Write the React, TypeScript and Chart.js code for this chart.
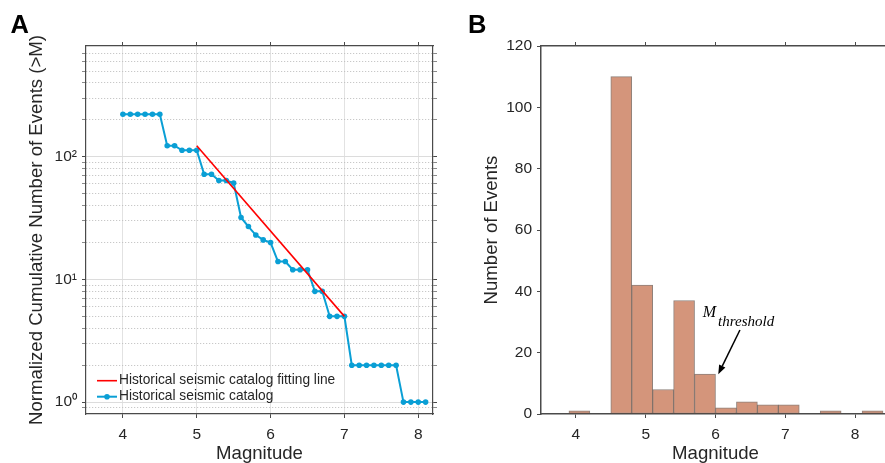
import React, { useEffect, useRef } from "react";
import { Chart, registerables } from "chart.js";

Chart.register(...registerables);

// ---------- Panel A data ----------
const catalogMagnitudes = [
  4.0, 4.1, 4.2, 4.3, 4.4, 4.5, 4.6, 4.7, 4.8, 4.9, 5.0, 5.1, 5.2, 5.3, 5.4, 5.5,
  5.6, 5.7, 5.8, 5.9, 6.0, 6.1, 6.2, 6.3, 6.4, 6.5, 6.6, 6.7, 6.8, 6.9, 7.0, 7.1,
  7.2, 7.3, 7.4, 7.5, 7.6, 7.7, 7.8, 7.9, 8.0, 8.1,
];
const catalogCounts = [
  222, 222, 222, 222, 222, 222, 123, 123, 113, 113, 113, 72, 72, 64, 64, 61,
  32, 27, 23, 21, 20, 14, 14, 12, 12, 12, 8, 8, 5, 5, 5, 2,
  2, 2, 2, 2, 2, 2, 1, 1, 1, 1,
];
const fitMagnitudes = [5.0, 7.0];
const fitCounts = [123, 5];
const seriesLabels = ["Historical seismic catalog fitting line", "Historical seismic catalog"];

const magnitudeTicks = [4, 5, 6, 7, 8];
const logTicks = [
  0.9, 1, 2, 3, 4, 5, 6, 7, 8, 9, 10, 20, 30, 40, 50, 60, 70, 80, 90, 100, 200, 300, 400, 500, 600, 700,
];
const logMajorValues = [1, 10, 100];
const logMajorLabels = ["10\u2070", "10\u00B9", "10\u00B2"];

// ---------- Panel B data ----------
const binCenters = [4.05, 4.35, 4.65, 4.95, 5.25, 5.55, 5.85, 6.15, 6.45, 6.75, 7.05, 7.35, 7.65, 7.95, 8.25];
const binCounts = [1, 0, 110, 42, 8, 37, 13, 2, 4, 3, 3, 0, 1, 0, 1];
const countTicks = [0, 20, 40, 60, 80, 100, 120];
const annotationMain = "M";
const annotationSub = "threshold";
const arrowTail = [6.35, 27.4];
const arrowHead = [6.04, 13.0];
const annotationAnchor = [5.817, 31.7];

// ---------- styling ----------
const FONT = "'Liberation Sans', Arial, Helvetica, sans-serif";
const SERIF = "'Liberation Serif', 'Times New Roman', serif";
const TEXT = "#262626";
const AXIS = "#4a4a4a";
const BLUE = "#0A9FD5";
const RED = "#FF0000";
const BAR = "#D4957B";
const BAR_EDGE = "rgba(95,75,65,0.7)";
const tickFont = { family: FONT, size: 15.5 };
const titleFont = { family: FONT, size: 18.6 };

const panelLabel = (text: string, x: number, y: number) => ({
  id: "panelLabel" + text,
  afterDraw(chart: any) {
    const ctx = chart.ctx;
    ctx.save();
    ctx.font = `bold 25.5px ${FONT}`;
    ctx.fillStyle = "#000";
    ctx.textBaseline = "alphabetic";
    ctx.textAlign = "left";
    ctx.fillText(text, x, y);
    ctx.restore();
  },
});

const insideLegend = {
  id: "insideLegend",
  afterDatasetsDraw(chart: any) {
    const { ctx, chartArea } = chart;
    const x0 = chartArea.left + 11;
    let y = chartArea.bottom - 33.3;
    ctx.save();
    chart.data.datasets.forEach((ds: any) => {
      ctx.strokeStyle = ds.borderColor;
      ctx.lineWidth = ds.borderWidth;
      ctx.beginPath();
      ctx.moveTo(x0, y);
      ctx.lineTo(x0 + 20, y);
      ctx.stroke();
      if (ds.pointRadius > 0) {
        ctx.fillStyle = ds.pointBackgroundColor;
        ctx.beginPath();
        ctx.arc(x0 + 10, y, ds.pointRadius, 0, Math.PI * 2);
        ctx.fill();
      }
      ctx.fillStyle = TEXT;
      ctx.font = `13.75px ${FONT}`;
      ctx.textBaseline = "middle";
      ctx.textAlign = "left";
      ctx.fillText(ds.label, x0 + 22, y);
      y += 16;
    });
    ctx.restore();
  },
};

const thresholdNote = {
  id: "thresholdNote",
  afterDatasetsDraw(chart: any) {
    const { ctx } = chart;
    const xs = chart.scales.x;
    const ys = chart.scales.y;
    const mx = xs.getPixelForValue(annotationAnchor[0]);
    const my = ys.getPixelForValue(annotationAnchor[1]);
    ctx.save();
    ctx.fillStyle = "#000";
    ctx.textBaseline = "alphabetic";
    ctx.textAlign = "left";
    ctx.font = `italic 16px ${SERIF}`;
    ctx.fillText(annotationMain, mx, my);
    const w = ctx.measureText(annotationMain).width;
    ctx.font = `italic 15px ${SERIF}`;
    ctx.fillText(annotationSub, mx + w + 2, my + 9.5);

    const tx = xs.getPixelForValue(arrowTail[0]);
    const ty = ys.getPixelForValue(arrowTail[1]);
    const hx = xs.getPixelForValue(arrowHead[0]);
    const hy = ys.getPixelForValue(arrowHead[1]);
    const ang = Math.atan2(hy - ty, hx - tx);
    const headLen = 9;
    const headW = 3.5;
    const bx = hx - headLen * Math.cos(ang);
    const by = hy - headLen * Math.sin(ang);
    ctx.strokeStyle = "#000";
    ctx.lineWidth = 1.5;
    ctx.beginPath();
    ctx.moveTo(tx, ty);
    ctx.lineTo(bx, by);
    ctx.stroke();
    ctx.beginPath();
    ctx.moveTo(hx, hy);
    ctx.lineTo(bx + headW * Math.sin(ang), by - headW * Math.cos(ang));
    ctx.lineTo(bx - headW * Math.sin(ang), by + headW * Math.cos(ang));
    ctx.closePath();
    ctx.fill();
    ctx.restore();
  },
};

const isMajorLog = (v: number) => logMajorValues.some((m) => Math.abs(m - v) < 1e-9);

export default function App() {
  const refA = useRef<HTMLCanvasElement>(null);
  const refB = useRef<HTMLCanvasElement>(null);

  useEffect(() => {
    const setTicks = (vals: number[]) => (s: any) => {
      s.ticks = vals.map((v) => ({ value: v, major: false }));
    };
    const logTickColor = (c: any) => (c.tick && !isMajorLog(c.tick.value) ? "#8a8a8a" : AXIS);

    const chartA = new Chart(refA.current as HTMLCanvasElement, {
      type: "line",
      data: {
        datasets: [
          {
            label: seriesLabels[0],
            data: fitMagnitudes.map((x, i) => ({ x, y: fitCounts[i] })),
            borderColor: RED,
            backgroundColor: RED,
            borderWidth: 1.6,
            pointRadius: 0,
            tension: 0,
          },
          {
            label: seriesLabels[1],
            data: catalogMagnitudes.map((x, i) => ({ x, y: catalogCounts[i] })),
            borderColor: BLUE,
            backgroundColor: BLUE,
            pointBackgroundColor: BLUE,
            borderWidth: 2,
            pointRadius: 2.8,
            pointBorderWidth: 0,
            tension: 0,
          },
        ],
      },
      options: {
        responsive: false,
        animation: false,
        layout: { padding: { top: 36, left: 0, right: 0, bottom: 0 } },
        plugins: { legend: { display: false }, tooltip: { enabled: false } },
        scales: {
          x: {
            type: "linear",
            position: "bottom",
            min: 3.5,
            max: 8.2,
            afterBuildTicks: setTicks(magnitudeTicks),
            afterFit: (s: any) => {
              s.height = 66;
            },
            ticks: { autoSkip: false, font: tickFont, color: TEXT, padding: 7.5, maxRotation: 0 },
            grid: { color: "#e2e2e2", lineWidth: 1, tickColor: AXIS, tickLength: 4 },
            border: { color: AXIS, width: 1.2 },
            title: { display: true, text: "Magnitude", font: titleFont, color: TEXT, padding: { top: 0, bottom: 15.3 } },
          },
          x2: {
            type: "linear",
            position: "top",
            min: 3.5,
            max: 8.2,
            afterBuildTicks: setTicks(magnitudeTicks),
            afterFit: (s: any) => {
              s.height = 10;
            },
            ticks: { display: false },
            grid: { drawOnChartArea: false, tickColor: AXIS, tickLength: 4 },
            border: { color: AXIS, width: 1.2 },
          },
          y: {
            type: "logarithmic",
            position: "left",
            min: 0.8,
            max: 800,
            afterBuildTicks: setTicks(logTicks),
            afterFit: (s: any) => {
              s.width = 86;
            },
            ticks: {
              autoSkip: false,
              font: tickFont,
              color: TEXT,
              padding: 5,
              callback: (v: any) => {
                const idx = logMajorValues.findIndex((m) => Math.abs(m - Number(v)) < 1e-9);
                return idx >= 0 ? logMajorLabels[idx] : "";
              },
            },
            grid: {
              color: (c: any) => (c.tick && isMajorLog(c.tick.value) ? "#dcdcdc" : "#bcbcbc"),
              lineWidth: 1,
              tickColor: logTickColor,
              tickLength: 4,
            },
            border: {
              color: AXIS,
              width: 1.2,
              dash: (c: any) => (c.tick && !isMajorLog(c.tick.value) ? [1, 2] : []),
            },
            title: {
              display: true,
              text: "Normalized Cumulative Number of Events (>M)",
              font: titleFont,
              color: TEXT,
              padding: { top: 25.5, bottom: 0 },
            },
          },
          y2: {
            type: "logarithmic",
            position: "right",
            min: 0.8,
            max: 800,
            afterBuildTicks: setTicks(logTicks),
            afterFit: (s: any) => {
              s.width = 9;
            },
            ticks: { display: false },
            grid: { drawOnChartArea: false, tickColor: logTickColor, tickLength: 4 },
            border: { color: AXIS, width: 1.2 },
          },
        },
      } as any,
      plugins: [insideLegend, panelLabel("A", 10.5, 33.3)],
    });

    const barData = binCenters
      .map((x, i) => ({ x, y: binCounts[i] }))
      .filter((d) => d.y > 0);

    const chartB = new Chart(refB.current as HTMLCanvasElement, {
      type: "bar",
      data: {
        datasets: [
          {
            label: "Number of Events",
            data: barData as any,
            backgroundColor: BAR,
            borderColor: BAR_EDGE,
            borderWidth: 1,
            borderSkipped: false,
            barPercentage: 1,
            categoryPercentage: 1,
          },
        ],
      },
      options: {
        responsive: false,
        animation: false,
        layout: { padding: { top: 36, left: 0, right: 12, bottom: 0 } },
        plugins: { legend: { display: false }, tooltip: { enabled: false } },
        scales: {
          x: {
            type: "linear",
            position: "bottom",
            min: 3.5,
            max: 8.5,
            offset: false,
            afterBuildTicks: setTicks(magnitudeTicks),
            afterFit: (s: any) => {
              s.height = 66;
            },
            ticks: { autoSkip: false, font: tickFont, color: TEXT, padding: 7.5, maxRotation: 0 },
            grid: { offset: false, drawOnChartArea: false, tickColor: AXIS, tickLength: 4 },
            border: { color: AXIS, width: 1.5 },
            title: { display: true, text: "Magnitude", font: titleFont, color: TEXT, padding: { top: 0, bottom: 15.3 } },
          },
          x2: {
            type: "linear",
            position: "top",
            min: 3.5,
            max: 8.5,
            offset: false,
            afterBuildTicks: setTicks(magnitudeTicks),
            afterFit: (s: any) => {
              s.height = 10;
            },
            ticks: { display: false },
            grid: { offset: false, drawOnChartArea: false, tickColor: AXIS, tickLength: 4 },
            border: { color: AXIS, width: 1.5 },
          },
          y: {
            type: "linear",
            position: "left",
            min: 0,
            max: 120,
            afterBuildTicks: setTicks(countTicks),
            afterFit: (s: any) => {
              s.width = 99;
            },
            ticks: { autoSkip: false, font: tickFont, color: TEXT, padding: 5 },
            grid: { drawOnChartArea: false, tickColor: AXIS, tickLength: 4 },
            border: { color: AXIS, width: 1.5 },
            title: {
              display: true,
              text: "Number of Events",
              font: titleFont,
              color: TEXT,
              padding: { top: 38.7, bottom: 0 },
            },
          },
        },
      } as any,
      plugins: [thresholdNote, panelLabel("B", 26, 33.3)],
    });

    return () => {
      chartA.destroy();
      chartB.destroy();
    };
  }, []);

  return (
    <div
      style={{
        position: "fixed",
        left: 0,
        top: 0,
        width: 885,
        height: 463,
        overflow: "hidden",
        background: "#fff",
      }}
    >
      <canvas ref={refA} width={442} height={480} style={{ position: "absolute", left: 0, top: 0, display: "block" }} />
      <canvas ref={refB} width={460} height={480} style={{ position: "absolute", left: 442, top: 0, display: "block" }} />
    </div>
  );
}
